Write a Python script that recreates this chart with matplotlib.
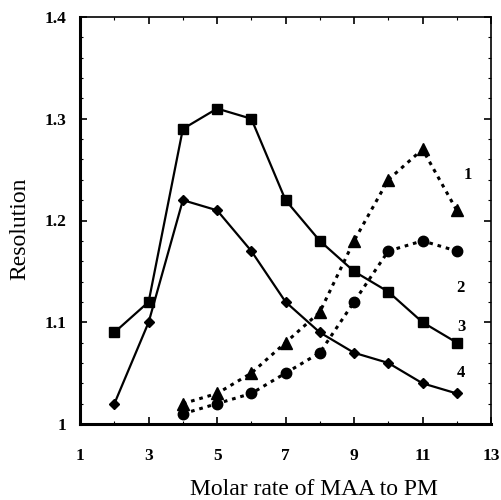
import matplotlib
matplotlib.use("Agg")
import matplotlib.pyplot as plt
from matplotlib.ticker import MultipleLocator

# data
x_13 = [4, 5, 6, 7, 8, 9, 10, 11, 12]
x_all = [2, 3, 4, 5, 6, 7, 8, 9, 10, 11, 12]
res_1 = [1.02, 1.03, 1.05, 1.08, 1.11, 1.18, 1.24, 1.27, 1.21]   # triangles
res_2 = [1.01, 1.02, 1.03, 1.05, 1.07, 1.12, 1.17, 1.18, 1.17]   # circles
res_3 = [1.09, 1.12, 1.29, 1.31, 1.30, 1.22, 1.18, 1.15, 1.13, 1.10, 1.08]  # squares
res_4 = [1.02, 1.10, 1.22, 1.21, 1.17, 1.12, 1.09, 1.07, 1.06, 1.04, 1.03]  # diamonds
curve_labels = ['1', '2', '3', '4']
label_pos = [(12.33, 1.245), (12.1, 1.134), (12.15, 1.095), (12.12, 1.05)]

plt.rcParams['font.family'] = ['Liberation Serif', 'DejaVu Serif']

fig = plt.figure(figsize=(5.01, 5.0), dpi=100)
ax = fig.add_axes([0.160, 0.152, 0.820, 0.814])

dot = (0, (1.2, 1.6))
ax.plot(x_13, res_1, color='black', lw=2.2, ls=dot, marker='^', ms=8)
ax.plot(x_13, res_2, color='black', lw=2.2, ls=dot, marker='o', ms=7.5)
ax.plot(x_all, res_3, color='black', lw=1.6, ls='-', marker='s', ms=7.5)
ax.plot(x_all, res_4, color='black', lw=1.6, ls='-', marker='D', ms=5.5)

for lab, (lx, ly) in zip(curve_labels, label_pos):
    ax.text(lx, ly, lab, fontsize=12, fontweight='bold', ha='center', va='center')

ax.set_xlim(1, 13)
ax.set_ylim(1, 1.4)
ax.xaxis.set_minor_locator(MultipleLocator(1))
ax.yaxis.set_minor_locator(MultipleLocator(0.02))
ax.set_yticks([1, 1.1, 1.2, 1.3, 1.4])
ax.set_yticklabels(['1', '1.1', '1.2', '1.3', '1.4'])
ax.set_xticks([1, 3, 5, 7, 9, 11, 13])
ax.set_xticklabels(['1', '3', '5', '7', '9', '11', '13'])

ax.tick_params(which='major', direction='in', length=5, width=1.2,
               labelsize=12.5, top=True, right=True)
ax.tick_params(axis='x', which='major', pad=17)
ax.tick_params(axis='y', which='major', pad=10)
ax.tick_params(which='minor', direction='in', length=2.5, width=0.8,
               top=True, right=True)
for t in ax.get_xticklabels() + ax.get_yticklabels():
    t.set_fontweight('bold')

for side in ['left', 'bottom']:
    ax.spines[side].set_linewidth(2.2)
for side in ['top', 'right']:
    ax.spines[side].set_linewidth(1.2)

ax.set_ylabel('Resolution', fontsize=17)
ax.yaxis.label.set_va('center')
ax.yaxis.set_label_coords(-0.146, 0.48)
ax.set_xlabel('Molar rate of MAA to PM', fontsize=17)
ax.xaxis.label.set_va('center')
ax.xaxis.set_label_coords(0.569, -0.162)

fig.savefig('out.png', dpi=100)
